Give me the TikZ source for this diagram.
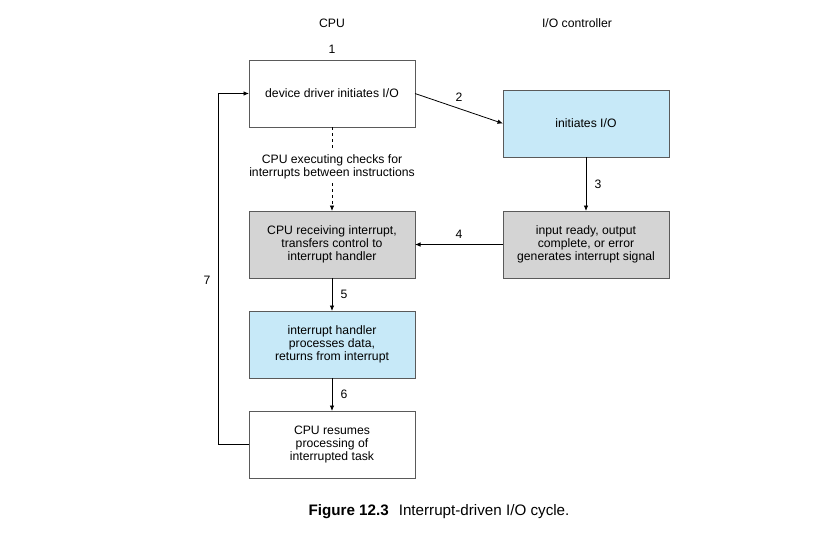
\documentclass[tikz,border=0pt]{standalone}
\usepackage{fontspec}
\setmainfont{Liberation Sans}
\usepackage{xcolor}
\usepackage{tikz}
\usetikzlibrary{arrows.meta,positioning}

\definecolor{boxblue}{RGB}{199,233,248}
\definecolor{boxgray}{RGB}{212,212,212}
\definecolor{edgegray}{RGB}{90,90,90}

\begin{document}
\begin{tikzpicture}[
  x=1pt, y=1pt,
  every node/.style={font=\fontsize{12.2}{13.3}\selectfont},
  box/.style={draw=edgegray, line width=0.9pt, minimum height=67pt,
              minimum width=166pt, align=center, outer sep=0pt},
  bluebox/.style={box, fill=boxblue},
  graybox/.style={box, fill=boxgray},
  arrow/.style={-{Latex[length=5.5pt,width=4.5pt]}, line width=0.8pt}
]
\useasboundingbox (0,0) rectangle (836,-539);

\node (cpu) at (332,-23) {CPU};
\node (ioc) at (577,-23) {I/O controller};

\node[box] (driver) at (332,-93.5) {device driver initiates I/O};
\node[above=3pt of driver] (one) {1};
\node[graybox, below=84pt of driver] (receive) {CPU receiving interrupt,\\transfers control to\\interrupt handler};
\node[bluebox, below=33pt of receive] (handler) {interrupt handler\\processes data,\\returns from interrupt};
\node[box, below=33pt of handler] (resume) {CPU resumes\\processing of\\interrupted task};
\node[graybox, right=88pt of receive] (signal) {input ready, output\\complete, or error\\generates interrupt signal};
\node[bluebox, above=54pt of signal] (ctrl) {initiates I/O};
\node[align=center, inner sep=4pt] (checks) at (332,-166.5) {CPU executing checks for\\interrupts between instructions};

\draw[arrow] (driver.east) -- (ctrl.west) node[midway, above=3pt]{2};
\draw[arrow] (ctrl) -- (signal) node[midway, right=5pt]{3};
\draw[arrow] (signal) -- (receive) node[midway, above=2pt]{4};
\draw[arrow] (receive) -- (handler) node[midway, right=5pt]{5};
\draw[arrow] (handler) -- (resume) node[midway, right=5pt]{6};
\draw[line width=0.8pt, dashed] (driver) -- (checks);
\draw[arrow, dashed] (checks) -- (receive);
\draw[arrow] (resume.west) -- ++(-31,0) |- (driver.west);
\node (seven) at (207,-280) {7};

\node[anchor=west, font=\fontsize{15.2}{17}\selectfont] (caption) at (305,-512)
  {\textbf{Figure 12.3}\hspace{10pt}Interrupt-driven I/O cycle.};
\end{tikzpicture}
\end{document}
